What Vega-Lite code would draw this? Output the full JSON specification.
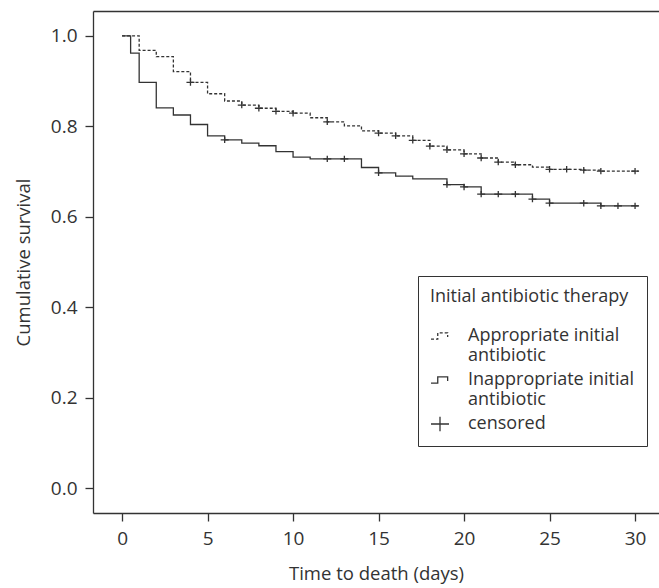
{
  "$schema": "https://vega.github.io/schema/vega-lite/v6.json",
  "width": 566,
  "height": 502,
  "autosize": {"type": "none"},
  "padding": {"left": 93, "top": 11, "right": 0, "bottom": 75},
  "background": "white",
  "config": {
    "view": {"stroke": null},
    "font": "Open Sans",
    "axis": {"domainColor": "#333", "tickColor": "#333", "labelColor": "#333", "titleColor": "#333", "labelFontSize": 19, "titleFontSize": 18.5, "titleFontWeight": "normal", "tickSize": 8, "grid": false, "domainWidth": 1.3, "tickWidth": 1.3}
  },
  "datasets": {
    "curves": [
      {"group": "Appropriate initial antibiotic", "time": 0, "surv": 1.0},
      {"group": "Appropriate initial antibiotic", "time": 1, "surv": 0.968},
      {"group": "Appropriate initial antibiotic", "time": 2, "surv": 0.954},
      {"group": "Appropriate initial antibiotic", "time": 3, "surv": 0.921},
      {"group": "Appropriate initial antibiotic", "time": 4, "surv": 0.897},
      {"group": "Appropriate initial antibiotic", "time": 5, "surv": 0.872},
      {"group": "Appropriate initial antibiotic", "time": 6, "surv": 0.856},
      {"group": "Appropriate initial antibiotic", "time": 7, "surv": 0.847},
      {"group": "Appropriate initial antibiotic", "time": 8, "surv": 0.840},
      {"group": "Appropriate initial antibiotic", "time": 9, "surv": 0.833},
      {"group": "Appropriate initial antibiotic", "time": 10, "surv": 0.829},
      {"group": "Appropriate initial antibiotic", "time": 11, "surv": 0.819},
      {"group": "Appropriate initial antibiotic", "time": 12, "surv": 0.810},
      {"group": "Appropriate initial antibiotic", "time": 13, "surv": 0.801},
      {"group": "Appropriate initial antibiotic", "time": 14, "surv": 0.790},
      {"group": "Appropriate initial antibiotic", "time": 15, "surv": 0.785},
      {"group": "Appropriate initial antibiotic", "time": 16, "surv": 0.779},
      {"group": "Appropriate initial antibiotic", "time": 17, "surv": 0.769},
      {"group": "Appropriate initial antibiotic", "time": 18, "surv": 0.756},
      {"group": "Appropriate initial antibiotic", "time": 19, "surv": 0.748},
      {"group": "Appropriate initial antibiotic", "time": 20, "surv": 0.739},
      {"group": "Appropriate initial antibiotic", "time": 21, "surv": 0.730},
      {"group": "Appropriate initial antibiotic", "time": 22, "surv": 0.721},
      {"group": "Appropriate initial antibiotic", "time": 23, "surv": 0.715},
      {"group": "Appropriate initial antibiotic", "time": 24, "surv": 0.710},
      {"group": "Appropriate initial antibiotic", "time": 25, "surv": 0.705},
      {"group": "Appropriate initial antibiotic", "time": 27, "surv": 0.703},
      {"group": "Appropriate initial antibiotic", "time": 28, "surv": 0.701},
      {"group": "Appropriate initial antibiotic", "time": 30.2, "surv": 0.701},
      {"group": "Inappropriate initial antibiotic", "time": 0, "surv": 1.0},
      {"group": "Inappropriate initial antibiotic", "time": 0.5, "surv": 0.962},
      {"group": "Inappropriate initial antibiotic", "time": 1, "surv": 0.897},
      {"group": "Inappropriate initial antibiotic", "time": 2, "surv": 0.841},
      {"group": "Inappropriate initial antibiotic", "time": 3, "surv": 0.825},
      {"group": "Inappropriate initial antibiotic", "time": 4, "surv": 0.804},
      {"group": "Inappropriate initial antibiotic", "time": 5, "surv": 0.779},
      {"group": "Inappropriate initial antibiotic", "time": 6, "surv": 0.770},
      {"group": "Inappropriate initial antibiotic", "time": 7, "surv": 0.763},
      {"group": "Inappropriate initial antibiotic", "time": 8, "surv": 0.757},
      {"group": "Inappropriate initial antibiotic", "time": 9, "surv": 0.744},
      {"group": "Inappropriate initial antibiotic", "time": 10, "surv": 0.732},
      {"group": "Inappropriate initial antibiotic", "time": 11, "surv": 0.728},
      {"group": "Inappropriate initial antibiotic", "time": 14, "surv": 0.709},
      {"group": "Inappropriate initial antibiotic", "time": 15, "surv": 0.697},
      {"group": "Inappropriate initial antibiotic", "time": 16, "surv": 0.690},
      {"group": "Inappropriate initial antibiotic", "time": 17, "surv": 0.684},
      {"group": "Inappropriate initial antibiotic", "time": 19, "surv": 0.671},
      {"group": "Inappropriate initial antibiotic", "time": 20, "surv": 0.666},
      {"group": "Inappropriate initial antibiotic", "time": 21, "surv": 0.650},
      {"group": "Inappropriate initial antibiotic", "time": 24, "surv": 0.639},
      {"group": "Inappropriate initial antibiotic", "time": 25, "surv": 0.630},
      {"group": "Inappropriate initial antibiotic", "time": 28, "surv": 0.624},
      {"group": "Inappropriate initial antibiotic", "time": 30.2, "surv": 0.624}
    ],
    "censored": [
      {"group": "censored", "time": 4, "surv": 0.897},
      {"group": "censored", "time": 7, "surv": 0.847},
      {"group": "censored", "time": 8, "surv": 0.840},
      {"group": "censored", "time": 9, "surv": 0.833},
      {"group": "censored", "time": 10, "surv": 0.829},
      {"group": "censored", "time": 12, "surv": 0.810},
      {"group": "censored", "time": 15, "surv": 0.785},
      {"group": "censored", "time": 16, "surv": 0.779},
      {"group": "censored", "time": 17, "surv": 0.769},
      {"group": "censored", "time": 18, "surv": 0.756},
      {"group": "censored", "time": 19, "surv": 0.748},
      {"group": "censored", "time": 20, "surv": 0.739},
      {"group": "censored", "time": 21, "surv": 0.730},
      {"group": "censored", "time": 22, "surv": 0.721},
      {"group": "censored", "time": 23, "surv": 0.715},
      {"group": "censored", "time": 25, "surv": 0.705},
      {"group": "censored", "time": 26, "surv": 0.705},
      {"group": "censored", "time": 27, "surv": 0.703},
      {"group": "censored", "time": 28, "surv": 0.701},
      {"group": "censored", "time": 30, "surv": 0.701},
      {"group": "censored", "time": 6, "surv": 0.770},
      {"group": "censored", "time": 12, "surv": 0.728},
      {"group": "censored", "time": 13, "surv": 0.728},
      {"group": "censored", "time": 15, "surv": 0.697},
      {"group": "censored", "time": 19, "surv": 0.671},
      {"group": "censored", "time": 20, "surv": 0.666},
      {"group": "censored", "time": 21, "surv": 0.650},
      {"group": "censored", "time": 22, "surv": 0.650},
      {"group": "censored", "time": 23, "surv": 0.650},
      {"group": "censored", "time": 24, "surv": 0.639},
      {"group": "censored", "time": 25, "surv": 0.630},
      {"group": "censored", "time": 27, "surv": 0.630},
      {"group": "censored", "time": 28, "surv": 0.624},
      {"group": "censored", "time": 29, "surv": 0.624},
      {"group": "censored", "time": 30, "surv": 0.624}
    ]
  },
  "resolve": {"axis": {"x": "independent"}},
  "layer": [
    {
      "data": {"name": "curves"},
      "mark": {"type": "line", "interpolate": "step-after", "color": "#333", "strokeWidth": 1.3},
      "encoding": {
        "x": {"field": "time", "type": "quantitative", "scale": {"domain": [-1.7, 31.4], "nice": false, "zero": false},
              "axis": {"values": [0, 5, 10, 15, 20, 25, 30], "title": "Time to death (days)", "labelPadding": 8, "titlePadding": 16}},
        "y": {"field": "surv", "type": "quantitative", "scale": {"domain": [-0.055, 1.055], "nice": false, "zero": false},
              "axis": {"values": [0, 0.2, 0.4, 0.6, 0.8, 1.0], "format": ".1f", "title": "Cumulative survival", "labelPadding": 8, "titlePadding": 17}},
        "detail": {"field": "group"},
        "strokeDash": {
          "field": "group", "type": "nominal", "title": "Initial antibiotic therapy",
          "scale": {"domain": ["Appropriate initial antibiotic", "Inappropriate initial antibiotic", "censored"], "range": [[3, 2], [1, 0], [1, 0]]},
          "legend": {
            "orient": "none", "legendX": 325, "legendY": 265,
            "padding": 12, "strokeColor": "#333", "fillColor": "white",
            "titleFontSize": 18, "titleFontWeight": "normal", "titleColor": "#333", "titlePadding": 20, "titleLimit": 400,
            "labelFontSize": 18, "labelColor": "#333", "labelLimit": 400, "labelOffset": 18,
            "symbolSize": 324, "symbolStrokeColor": "#333", "symbolStrokeWidth": 1.3, "symbolFillColor": "transparent",
            "rowPadding": 5,
            "labelExpr": "datum.label == 'Appropriate initial antibiotic' ? ['Appropriate initial', 'antibiotic'] : datum.label == 'Inappropriate initial antibiotic' ? ['Inappropriate initial', 'antibiotic'] : datum.label"
          }
        }
      }
    },
    {
      "data": {"name": "censored"},
      "mark": {"type": "point", "filled": false, "color": "#333", "strokeWidth": 1.3, "size": 64, "opacity": 1},
      "encoding": {
        "x": {"field": "time", "type": "quantitative", "scale": {"domain": [-1.7, 31.4], "nice": false, "zero": false},
              "axis": {"orient": "top", "ticks": false, "labels": false, "title": null, "domainColor": "#333"}},
        "y": {"field": "surv", "type": "quantitative"},
        "shape": {
          "field": "group", "type": "nominal", "title": "Initial antibiotic therapy",
          "scale": {"domain": ["Appropriate initial antibiotic", "Inappropriate initial antibiotic", "censored"],
                    "range": ["M-1,0.35H-0.25V-0.35H0.85V0.1", "M-1,0.35H-0.25V-0.35H0.85V0.1", "M-1,0H1M0,-0.8V0.8"]},
          "legend": {
            "orient": "none", "legendX": 325, "legendY": 265,
            "padding": 12, "strokeColor": "#333", "fillColor": "white",
            "titleFontSize": 18, "titleFontWeight": "normal", "titleColor": "#333", "titlePadding": 20, "titleLimit": 400,
            "labelFontSize": 18, "labelColor": "#333", "labelLimit": 400, "labelOffset": 18,
            "symbolSize": 324, "symbolStrokeColor": "#333", "symbolStrokeWidth": 1.3, "symbolFillColor": "transparent",
            "rowPadding": 5,
            "labelExpr": "datum.label == 'Appropriate initial antibiotic' ? ['Appropriate initial', 'antibiotic'] : datum.label == 'Inappropriate initial antibiotic' ? ['Inappropriate initial', 'antibiotic'] : datum.label"
          }
        }
      }
    }
  ]
}
